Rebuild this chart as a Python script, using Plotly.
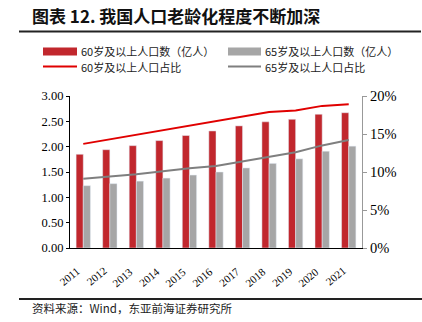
import plotly.graph_objects as go

years = ["2011", "2012", "2013", "2014", "2015", "2016", "2017", "2018", "2019", "2020", "2021"]
pop60 = [1.85, 1.94, 2.02, 2.12, 2.22, 2.31, 2.41, 2.49, 2.54, 2.64, 2.67]
pop65 = [1.23, 1.27, 1.32, 1.38, 1.44, 1.50, 1.58, 1.67, 1.76, 1.91, 2.01]
share60 = [0.137, 0.143, 0.149, 0.155, 0.161, 0.167, 0.173, 0.179, 0.181, 0.187, 0.189]
share65 = [0.091, 0.094, 0.097, 0.101, 0.105, 0.108, 0.114, 0.119, 0.126, 0.135, 0.142]

names = ["60岁及以上人口数（亿人）", "65岁及以上人口数（亿人）", "60岁及以上人口占比", "65岁及以上人口占比"]
RED_BAR = "#C1272D"
GRAY_BAR = "#A6A6A6"
RED_LINE = "#E00000"
GRAY_LINE = "#7F7F7F"

W, H = 422, 322
L, R, T, B = 70, 362, 96, 248

def px(x):
    return (x - L) / (R - L)

def py(y):
    return (B - y) / (B - T)

serif = "Liberation Serif"
cjk = "Noto Sans CJK SC"

fig = go.Figure()
fig.add_trace(go.Bar(x=years, y=pop60, name=names[0], marker_color=RED_BAR, showlegend=False))
fig.add_trace(go.Bar(x=years, y=pop65, name=names[1], marker_color=GRAY_BAR, showlegend=False))
fig.add_trace(go.Scatter(x=years, y=share60, name=names[2], yaxis="y2", mode="lines",
                         line=dict(color=RED_LINE, width=2), showlegend=False))
fig.add_trace(go.Scatter(x=years, y=share65, name=names[3], yaxis="y2", mode="lines",
                         line=dict(color=GRAY_LINE, width=2), showlegend=False))

shapes = []
annotations = []
# title and rules
annotations.append(dict(x=px(30), y=py(16), xref="paper", yref="paper", xanchor="left", yanchor="middle",
                        text="<b>图表 12. 我国人口老龄化程度不断加深</b>", showarrow=False,
                        font=dict(family=cjk, size=17, color="#111111")))
shapes.append(dict(type="line", xref="paper", yref="paper", x0=px(19), x1=px(421), y0=py(31.5), y1=py(31.5),
                   line=dict(color="#222222", width=2)))
shapes.append(dict(type="line", xref="paper", yref="paper", x0=px(19), x1=px(422), y0=py(299), y1=py(299),
                   line=dict(color="#222222", width=2)))
annotations.append(dict(x=px(30), y=py(308), xref="paper", yref="paper", xanchor="left", yanchor="middle",
                        text="资料来源：Wind，东亚前海证券研究所", showarrow=False,
                        font=dict(family=cjk, size=11.5, color="#222222")))

# manual legend
leg = [
    (43, 77, 51.5, "bar", RED_BAR, names[0]),
    (228, 261, 51.5, "bar", GRAY_BAR, names[1]),
    (43, 77, 66.5, "line", RED_LINE, names[2]),
    (228, 261, 66.5, "line", GRAY_LINE, names[3]),
]
for x0, x1, yc, kind, col, txt in leg:
    if kind == "bar":
        shapes.append(dict(type="rect", xref="paper", yref="paper", x0=px(x0), x1=px(x1),
                           y0=py(yc - 4), y1=py(yc + 4), fillcolor=col, line=dict(width=0)))
    else:
        shapes.append(dict(type="line", xref="paper", yref="paper", x0=px(x0), x1=px(x1),
                           y0=py(yc), y1=py(yc), line=dict(color=col, width=2)))
    annotations.append(dict(x=px(x1 + 2), y=py(yc), xref="paper", yref="paper", xanchor="left",
                            yanchor="middle", text=txt, showarrow=False,
                            font=dict(family=cjk, size=11, color="#222222")))

# rotated category labels placed through the x axis (category index)
for i, yr in enumerate(years):
    annotations.append(dict(x=i, xref="x", y=py(262), yref="paper", xanchor="right", yanchor="top",
                            text=yr, textangle=-40, showarrow=False, xshift=2,
                            font=dict(family=serif, size=11, color="black")))

fig.update_layout(
    width=W, height=H,
    margin=dict(l=L, r=W - R, t=T, b=H - B, pad=0),
    paper_bgcolor="white", plot_bgcolor="white",
    barmode="group", bargap=0.46, bargroupgap=0,
    shapes=shapes, annotations=annotations,
    xaxis=dict(type="category", range=[-0.5, len(years) - 0.5], autorange=False,
               showline=True, linecolor="black", linewidth=1.2, ticks="",
               showticklabels=False, showgrid=False, zeroline=False, automargin=False),
    yaxis=dict(range=[0, 3], dtick=0.5, tickformat=".2f", showline=True, linecolor="black",
               linewidth=1.2, ticks="outside", ticklen=3, tickcolor="black",
               tickfont=dict(family=serif, size=12.5, color="black"), showgrid=False, zeroline=False),
    yaxis2=dict(range=[0, 0.2], dtick=0.05, tickformat=".0%", overlaying="y", side="right",
                showline=True, linecolor="#999999", linewidth=1, ticks="outside", ticklen=4,
                tickcolor="#999999", tickfont=dict(family=serif, size=14.5, color="black"),
                showgrid=False, zeroline=False),
)

fig.write_html("out.html")
